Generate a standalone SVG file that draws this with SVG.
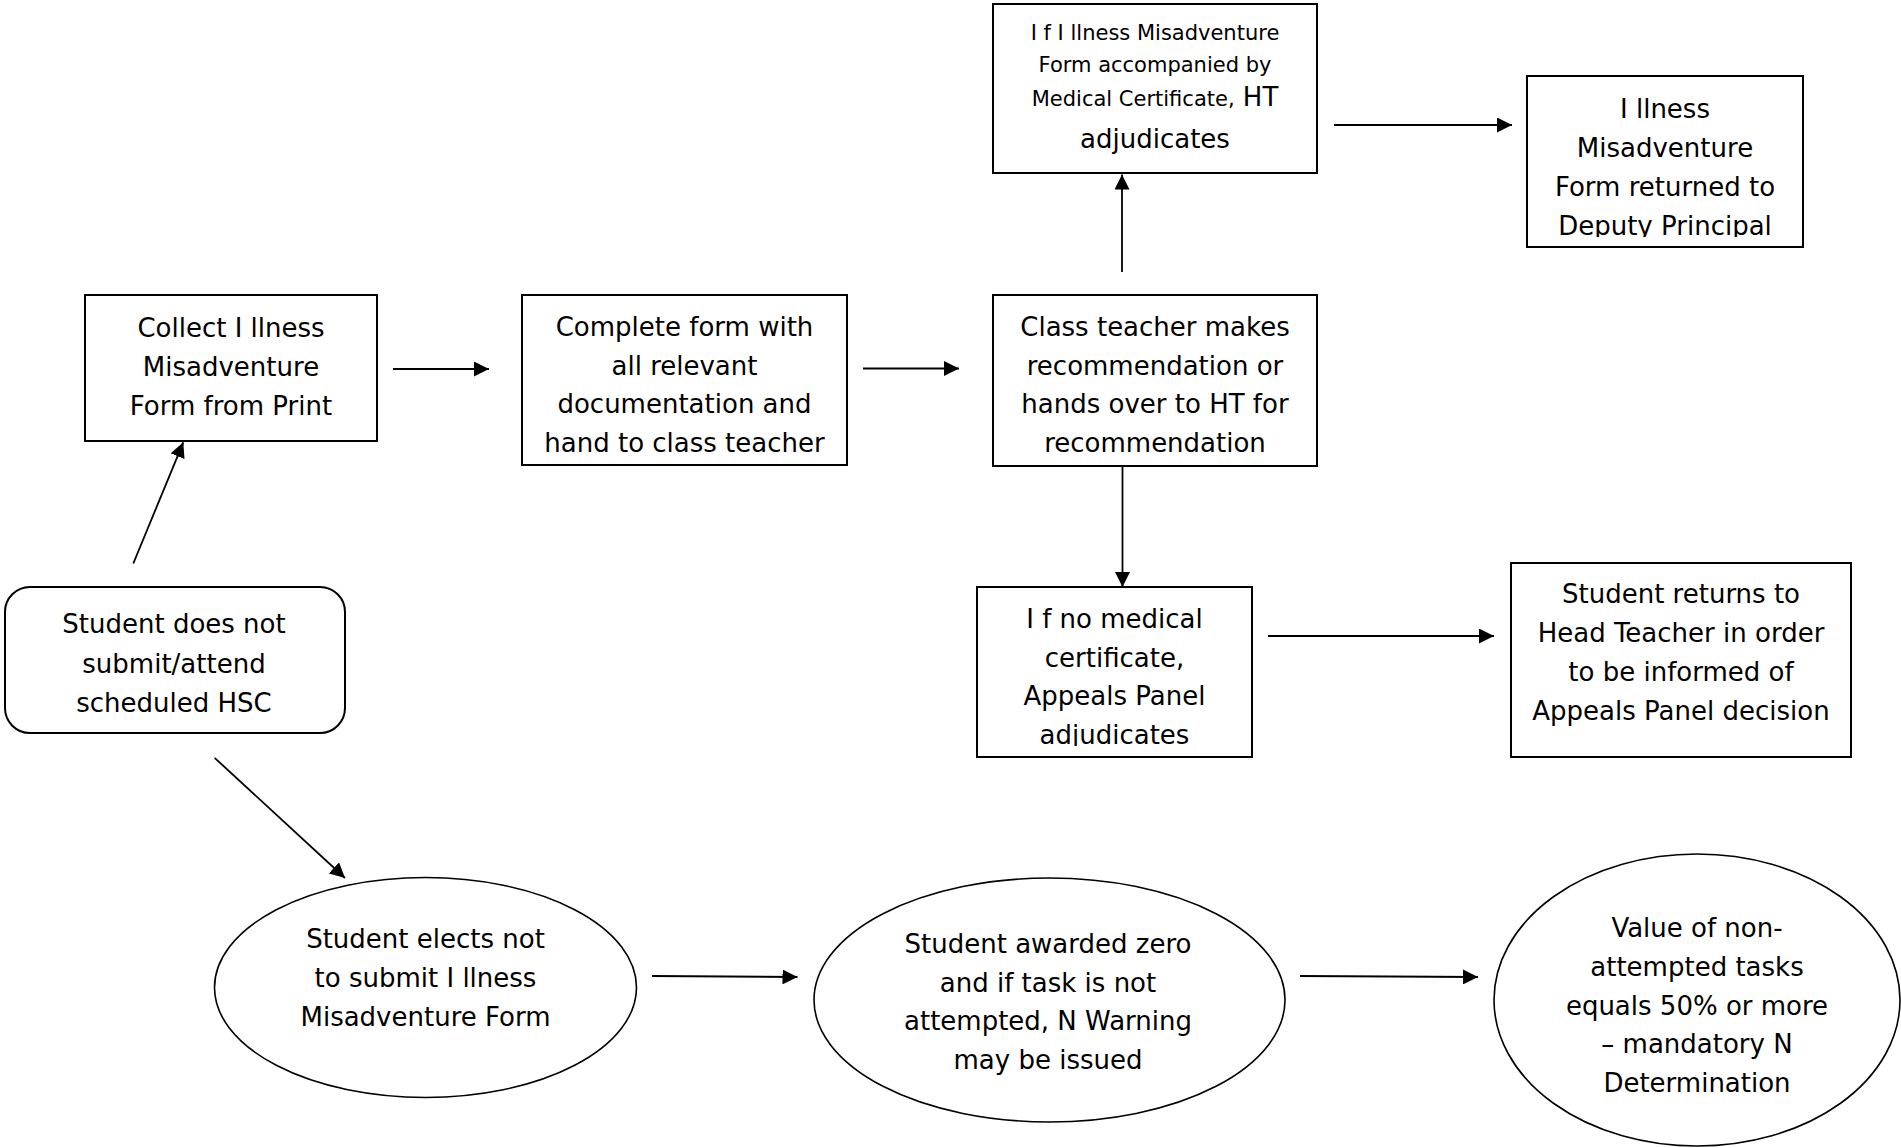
<svg xmlns="http://www.w3.org/2000/svg" width="1901" height="1148" viewBox="0 0 1901 1148">
<style>
.box{fill:#fff;stroke:#000;stroke-width:2}
.ell{fill:#fff;stroke:#000;stroke-width:1.6}
.t{font-family:"DejaVu Sans",sans-serif;font-size:26px;fill:#000;text-anchor:middle}
.s{font-size:21px}
.c{fill:none;stroke:#000;stroke-width:1.8}
</style>
<defs>
<marker id="arr" markerUnits="userSpaceOnUse" markerWidth="16" markerHeight="15" refX="15" refY="7.5" orient="auto">
<path d="M0,0 L15,7.5 L0,15 z" fill="#000"/>
</marker>
<clipPath id="clipIll"><rect x="1527" y="76" width="276" height="161"/></clipPath>
<clipPath id="clipNoMed"><rect x="977" y="587" width="275" height="159"/></clipPath>
</defs>
<rect width="1901" height="1148" fill="#fff"/>

<g id="n-ht-adjudicates">
<rect class="box" x="993" y="4" width="324" height="169"/>
<text class="t s" x="1155" y="40">I f I llness Misadventure</text>
<text class="t s" x="1155" y="72">Form accompanied by</text>
<text class="t" x="1155" y="106"><tspan class="s">Medical Certificate,</tspan> HT</text>
<text class="t" x="1155" y="148">adjudicates</text>
</g>

<g id="n-returned">
<rect class="box" x="1527" y="76" width="276" height="171"/>
<g clip-path="url(#clipIll)">
<text class="t" x="1665" y="118">I llness</text>
<text class="t" x="1665" y="157">Misadventure</text>
<text class="t" x="1665" y="196">Form returned to</text>
<text class="t" x="1665" y="235">Deputy Principal</text>
</g>
</g>

<g id="n-collect">
<rect class="box" x="85" y="295" width="292" height="146"/>
<text class="t" x="231" y="337">Collect I llness</text>
<text class="t" x="231" y="376">Misadventure</text>
<text class="t" x="231" y="415">Form from Print</text>
</g>

<g id="n-complete">
<rect class="box" x="522" y="295" width="325" height="170"/>
<text class="t" x="684.5" y="336">Complete form with</text>
<text class="t" x="684.5" y="374.5">all relevant</text>
<text class="t" x="684.5" y="413">documentation and</text>
<text class="t" x="684.5" y="451.5">hand to class teacher</text>
</g>

<g id="n-class-teacher">
<rect class="box" x="993" y="295" width="324" height="171"/>
<text class="t" x="1155" y="336">Class teacher makes</text>
<text class="t" x="1155" y="374.5">recommendation or</text>
<text class="t" x="1155" y="413">hands over to HT for</text>
<text class="t" x="1155" y="451.5">recommendation</text>
</g>

<g id="n-no-medical">
<rect class="box" x="977" y="587" width="275" height="170"/>
<g clip-path="url(#clipNoMed)">
<text class="t" x="1114.5" y="628">I f no medical</text>
<text class="t" x="1114.5" y="666.5">certificate,</text>
<text class="t" x="1114.5" y="705">Appeals Panel</text>
<text class="t" x="1114.5" y="743.5">adjudicates</text>
</g>
</g>

<g id="n-student-returns">
<rect class="box" x="1511" y="563" width="340" height="194"/>
<text class="t" x="1681" y="603">Student returns to</text>
<text class="t" x="1681" y="642">Head Teacher in order</text>
<text class="t" x="1681" y="681">to be informed of</text>
<text class="t" x="1681" y="720">Appeals Panel decision</text>
</g>

<g id="n-does-not-submit">
<rect class="box" x="5" y="587" width="340" height="146" rx="25" ry="25"/>
<text class="t" x="174" y="633">Student does not</text>
<text class="t" x="174" y="672.5">submit/attend</text>
<text class="t" x="174" y="711.5">scheduled HSC</text>
</g>

<g id="n-elects-not">
<ellipse class="ell" cx="425.5" cy="987.5" rx="211" ry="110"/>
<text class="t" x="425.5" y="948">Student elects not</text>
<text class="t" x="425.5" y="987">to submit I llness</text>
<text class="t" x="425.5" y="1026">Misadventure Form</text>
</g>

<g id="n-awarded-zero">
<ellipse class="ell" cx="1049.5" cy="1000" rx="235.5" ry="122"/>
<text class="t" x="1048" y="953">Student awarded zero</text>
<text class="t" x="1048" y="991.5">and if task is not</text>
<text class="t" x="1048" y="1030">attempted, N Warning</text>
<text class="t" x="1048" y="1068.5">may be issued</text>
</g>

<g id="n-value">
<ellipse class="ell" cx="1697" cy="1000" rx="203" ry="146"/>
<text class="t" x="1697" y="937">Value of non-</text>
<text class="t" x="1697" y="976">attempted tasks</text>
<text class="t" x="1697" y="1015">equals 50% or more</text>
<text class="t" x="1697" y="1053">– mandatory N</text>
<text class="t" x="1697" y="1092">Determination</text>
</g>

<g id="connectors">
<line class="c" x1="393" y1="369" x2="489" y2="369" marker-end="url(#arr)"/>
<line class="c" x1="863" y1="368.5" x2="959" y2="368.5" marker-end="url(#arr)"/>
<line class="c" x1="1122" y1="272" x2="1122" y2="174.5" marker-end="url(#arr)"/>
<line class="c" x1="1334" y1="125" x2="1512" y2="125" marker-end="url(#arr)"/>
<line class="c" x1="1122.5" y1="466" x2="1122.5" y2="587" marker-end="url(#arr)"/>
<line class="c" x1="1268" y1="636" x2="1494" y2="636" marker-end="url(#arr)"/>
<line class="c" x1="133.3" y1="563.5" x2="183.3" y2="442.3" marker-end="url(#arr)"/>
<line class="c" x1="214.6" y1="757.8" x2="345" y2="878" marker-end="url(#arr)"/>
<line class="c" x1="652" y1="976" x2="797.5" y2="977" marker-end="url(#arr)"/>
<line class="c" x1="1300" y1="976" x2="1478" y2="977" marker-end="url(#arr)"/>
</g>
</svg>
